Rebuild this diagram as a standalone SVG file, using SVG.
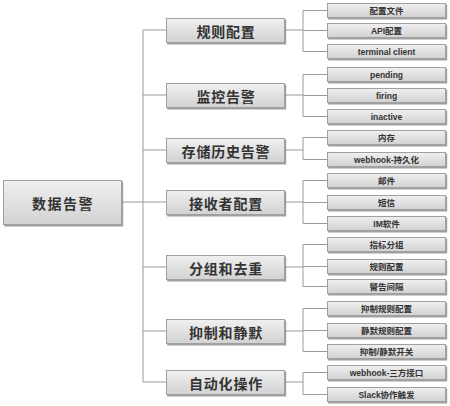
<svg xmlns="http://www.w3.org/2000/svg" width="450" height="406" viewBox="0 0 450 406">
<defs>
<linearGradient id="g" x1="0" y1="0" x2="0" y2="1">
<stop offset="0" stop-color="#f0f0f0"/>
<stop offset="1" stop-color="#d2d2d2"/>
</linearGradient>
<filter id="sh" x="-10%" y="-20%" width="120%" height="150%">
<feDropShadow dx="1.2" dy="1.5" stdDeviation="0.7" flood-color="#808080" flood-opacity="0.75"/>
</filter>
</defs>
<style>
.box{fill:url(#g);stroke:#a0a0a0;stroke-width:1;filter:url(#sh)}
.t1{font-family:"Noto Sans CJK SC","Noto Sans",sans-serif;font-weight:bold;font-size:14px;fill:#333;text-anchor:middle;dominant-baseline:central;letter-spacing:0.8px}
.t2{font-family:"Liberation Sans","Noto Sans CJK SC",sans-serif;font-weight:bold;font-size:8.5px;fill:#333;text-anchor:middle;dominant-baseline:central}
.ln{stroke:#9a9a9a;stroke-width:1;fill:none}
</style>
<rect width="450" height="406" fill="#fff"/>
<g id="connectors" class="ln">
<path d="M121 202H143M143 30V382M143 30H166M143 95H166M143 150H166M143 202H166M143 267H166M143 331H166M143 382H166"/>
<path d="M285 30H303M303 10.5V51.5M303 10.5H327M303 30.5H327M303 51.5H327"/>
<path d="M285 95H303M303 74.5V116.5M303 74.5H327M303 95.5H327M303 116.5H327"/>
<path d="M285 150H303M303 137.5V159.5M303 137.5H327M303 159.5H327"/>
<path d="M285 202H303M303 180.5V223.5M303 180.5H327M303 202.5H327M303 223.5H327"/>
<path d="M285 267H303M303 244.5V286.5M303 244.5H327M303 266.5H327M303 286.5H327"/>
<path d="M285 331H303M303 308.5V351.5M303 308.5H327M303 330.5H327M303 351.5H327"/>
<path d="M285 382H303M303 372.5V394.5M303 372.5H327M303 394.5H327"/>
</g>
<g id="root"><rect class="box" x="3.5" y="180.5" width="118" height="44"/><text class="t1" x="63" y="202.5" style="letter-spacing:1.5px">数据告警</text></g>
<g id="n1"><rect class="box" x="166.5" y="18.5" width="118" height="24"/><text class="t1" x="226" y="30.5">规则配置</text></g>
<g id="n2"><rect class="box" x="166.5" y="83.5" width="118" height="24"/><text class="t1" x="226" y="95.5">监控告警</text></g>
<g id="n3"><rect class="box" x="166.5" y="138.5" width="118" height="24"/><text class="t1" x="226" y="150.5">存储历史告警</text></g>
<g id="n4"><rect class="box" x="166.5" y="190.5" width="118" height="24"/><text class="t1" x="226" y="202.5">接收者配置</text></g>
<g id="n5"><rect class="box" x="166.5" y="255.5" width="118" height="24"/><text class="t1" x="226" y="267.5">分组和去重</text></g>
<g id="n6"><rect class="box" x="166.5" y="319.5" width="118" height="24"/><text class="t1" x="226" y="331.5">抑制和静默</text></g>
<g id="n7"><rect class="box" x="166.5" y="370.5" width="118" height="24"/><text class="t1" x="226" y="382.5">自动化操作</text></g>
<g id="c1a"><rect class="box" x="327.5" y="3.5" width="118" height="14"/><text class="t2" x="386.5" y="10.5">配置文件</text></g>
<g id="c1b"><rect class="box" x="327.5" y="23.5" width="118" height="14"/><text class="t2" x="386.5" y="30.5">API配置</text></g>
<g id="c1c"><rect class="box" x="327.5" y="44.5" width="118" height="14"/><text class="t2" x="386.5" y="51.5">terminal client</text></g>
<g id="c2a"><rect class="box" x="327.5" y="67.5" width="118" height="14"/><text class="t2" x="386.5" y="74.5">pending</text></g>
<g id="c2b"><rect class="box" x="327.5" y="88.5" width="118" height="14"/><text class="t2" x="386.5" y="95.5">firing</text></g>
<g id="c2c"><rect class="box" x="327.5" y="109.5" width="118" height="14"/><text class="t2" x="386.5" y="116.5">inactive</text></g>
<g id="c3a"><rect class="box" x="327.5" y="130.5" width="118" height="14"/><text class="t2" x="386.5" y="137.5">内存</text></g>
<g id="c3b"><rect class="box" x="327.5" y="152.5" width="118" height="14"/><text class="t2" x="386.5" y="159.5">webhook-持久化</text></g>
<g id="c4a"><rect class="box" x="327.5" y="173.5" width="118" height="14"/><text class="t2" x="386.5" y="180.5">邮件</text></g>
<g id="c4b"><rect class="box" x="327.5" y="195.5" width="118" height="14"/><text class="t2" x="386.5" y="202.5">短信</text></g>
<g id="c4c"><rect class="box" x="327.5" y="216.5" width="118" height="14"/><text class="t2" x="386.5" y="223.5">IM软件</text></g>
<g id="c5a"><rect class="box" x="327.5" y="237.5" width="118" height="14"/><text class="t2" x="386.5" y="244.5">指标分组</text></g>
<g id="c5b"><rect class="box" x="327.5" y="259.5" width="118" height="14"/><text class="t2" x="386.5" y="266.5">规则配置</text></g>
<g id="c5c"><rect class="box" x="327.5" y="279.5" width="118" height="14"/><text class="t2" x="386.5" y="286.5">警告间隔</text></g>
<g id="c6a"><rect class="box" x="327.5" y="301.5" width="118" height="14"/><text class="t2" x="386.5" y="308.5">抑制规则配置</text></g>
<g id="c6b"><rect class="box" x="327.5" y="323.5" width="118" height="14"/><text class="t2" x="386.5" y="330.5">静默规则配置</text></g>
<g id="c6c"><rect class="box" x="327.5" y="344.5" width="118" height="14"/><text class="t2" x="386.5" y="351.5">抑制/静默开关</text></g>
<g id="c7a"><rect class="box" x="327.5" y="365.5" width="118" height="14"/><text class="t2" x="386.5" y="372.5">webhook-三方接口</text></g>
<g id="c7b"><rect class="box" x="327.5" y="387.5" width="118" height="14"/><text class="t2" x="386.5" y="394.5">Slack协作触发</text></g>
</svg>
